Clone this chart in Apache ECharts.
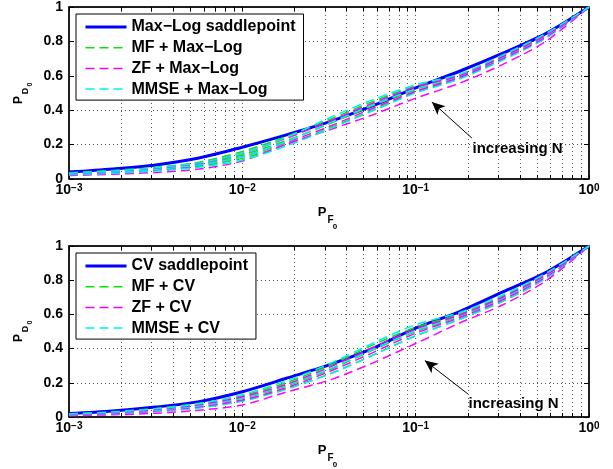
<!DOCTYPE html>
<html>
<head>
<meta charset="utf-8">
<script src="https://cdn.jsdelivr.net/npm/echarts@6/dist/echarts.min.js"></script>
<style>
html, body { margin: 0; padding: 0; background: #fff; }
#chart { width: 613px; height: 469px; }
</style>
</head>
<body>
<div id="chart"></div>
<script>
// False-alarm probability grid (quarter-decade steps) shared by every curve
const pf = [0.001, 0.0017783, 0.0031623, 0.0056234, 0.01, 0.017783, 0.031623,
            0.056234, 0.1, 0.17783, 0.31623, 0.56234, 1];

// Tick positions on the log axis (decades plus 2..9 subdivisions)
const xTicks = [0.001, 0.002, 0.003, 0.004, 0.005, 0.006, 0.007, 0.008, 0.009,
                0.01, 0.02, 0.03, 0.04, 0.05, 0.06, 0.07, 0.08, 0.09,
                0.1, 0.2, 0.3, 0.4, 0.5, 0.6, 0.7, 0.8, 0.9, 1];

// ---- Max-Log detector: detection probability ----
const mlSaddle = [0.040, 0.058, 0.082, 0.122, 0.185, 0.255, 0.332, 0.425, 0.530, 0.625, 0.730, 0.845, 1];
// three antenna counts per receiver (small N -> large N)
const mlMF = [
  [0.026, 0.036, 0.051, 0.074, 0.120, 0.200, 0.295, 0.400, 0.505, 0.585, 0.695, 0.820, 1],
  [0.031, 0.043, 0.060, 0.086, 0.140, 0.222, 0.320, 0.425, 0.520, 0.595, 0.705, 0.830, 1],
  [0.036, 0.050, 0.068, 0.098, 0.160, 0.245, 0.345, 0.450, 0.540, 0.605, 0.715, 0.840, 1]
];
const mlZF = [
  [0.020, 0.028, 0.038, 0.058, 0.105, 0.200, 0.285, 0.372, 0.470, 0.556, 0.665, 0.800, 1],
  [0.028, 0.039, 0.055, 0.080, 0.130, 0.210, 0.305, 0.410, 0.510, 0.590, 0.700, 0.825, 1],
  [0.033, 0.046, 0.064, 0.092, 0.150, 0.235, 0.335, 0.440, 0.535, 0.600, 0.710, 0.835, 1]
];
const mlMMSE = [
  [0.024, 0.033, 0.047, 0.068, 0.110, 0.190, 0.290, 0.395, 0.500, 0.580, 0.690, 0.818, 1],
  [0.029, 0.040, 0.056, 0.082, 0.130, 0.215, 0.325, 0.430, 0.525, 0.598, 0.708, 0.832, 1],
  [0.034, 0.047, 0.065, 0.094, 0.150, 0.240, 0.355, 0.460, 0.548, 0.608, 0.720, 0.845, 1]
];

// ---- CV detector: detection probability ----
const cvSaddle = [0.020, 0.035, 0.058, 0.090, 0.148, 0.225, 0.305, 0.400, 0.520, 0.615, 0.730, 0.845, 1];
const cvMF = [
  [0.013, 0.020, 0.034, 0.056, 0.095, 0.165, 0.250, 0.360, 0.475, 0.570, 0.675, 0.810, 1],
  [0.016, 0.025, 0.042, 0.068, 0.110, 0.180, 0.275, 0.390, 0.500, 0.585, 0.690, 0.822, 1],
  [0.019, 0.030, 0.050, 0.080, 0.125, 0.200, 0.300, 0.420, 0.525, 0.600, 0.705, 0.835, 1]
];
const cvZF = [
  [0.008, 0.013, 0.022, 0.040, 0.070, 0.145, 0.215, 0.315, 0.430, 0.548, 0.655, 0.795, 1],
  [0.013, 0.021, 0.036, 0.060, 0.100, 0.170, 0.265, 0.375, 0.490, 0.580, 0.685, 0.818, 1],
  [0.016, 0.026, 0.044, 0.072, 0.118, 0.190, 0.290, 0.405, 0.515, 0.595, 0.700, 0.830, 1]
];
const cvMMSE = [
  [0.012, 0.019, 0.032, 0.053, 0.092, 0.160, 0.250, 0.360, 0.475, 0.570, 0.678, 0.812, 1],
  [0.015, 0.024, 0.040, 0.065, 0.112, 0.185, 0.280, 0.395, 0.505, 0.590, 0.695, 0.826, 1],
  [0.018, 0.029, 0.048, 0.078, 0.130, 0.210, 0.310, 0.430, 0.540, 0.610, 0.712, 0.840, 1]
];

// Legend names
const topNames = ['Max\u2212Log saddlepoint', 'MF + Max\u2212Log', 'ZF + Max\u2212Log', 'MMSE + Max\u2212Log'];
const botNames = ['CV saddlepoint', 'MF + CV', 'ZF + CV', 'MMSE + CV'];

// Annotation anchors in data units: [P_F, P_D]
const topArrow = [[0.211, 0.238], [0.124, 0.448]];
const botArrow = [[0.200, 0.135], [0.113, 0.330]];
const topNote = [0.387, 0.174];
const botNote = [0.367, 0.076];

const FONT = 'Liberation Sans, Arial, Helvetica, sans-serif';
const BLUE = '#0000ff', GREEN = '#00e600', MAGENTA = '#ff00ff', CYAN = '#00f0f0';
const DASH = [9, 5];
const DASH_W = 1.5;

function curve(name, ys, color, width, type, g) {
  return {
    type: 'line', name: name,
    xAxisIndex: g * 2, yAxisIndex: g * 2,
    data: pf.map((x, i) => [x, ys[i]]),
    symbol: 'none', showSymbol: false, smooth: 0.3,
    lineStyle: { color: color, width: width, type: type },
    itemStyle: { color: color },
    silent: true
  };
}

function panelSeries(g, names, saddle, mf, zf, mmse, arrow, note) {
  const s = [curve(names[0], saddle, BLUE, 3, 'solid', g)];
  for (let k = 0; k < 3; k++) {
    s.push(curve(names[1], mf[k], GREEN, DASH_W, DASH, g));
    s.push(curve(names[2], zf[k], MAGENTA, DASH_W, DASH, g));
    s.push(curve(names[3], mmse[k], CYAN, DASH_W, DASH, g));
  }
  // "increasing N" annotation
  s.push({
    type: 'line', name: 'note' + g, xAxisIndex: g * 2, yAxisIndex: g * 2, data: [], silent: true,
    markLine: {
      silent: true, symbol: ['none', 'arrow'], symbolSize: [9, 13],
      lineStyle: { color: '#000', width: 1, type: 'solid' },
      label: { show: false },
      data: [[{ coord: arrow[0] }, { coord: arrow[1] }]]
    },
    markPoint: {
      silent: true, symbol: 'rect', symbolSize: 1,
      itemStyle: { color: 'rgba(0,0,0,0)' },
      label: {
        show: true, position: 'inside', formatter: 'increasing N',
        color: '#000', fontFamily: FONT, fontWeight: 'bold', fontSize: 15
      },
      data: [{ coord: note }]
    }
  });
  return s;
}

function xLabel(v) {
  const e = Math.round(Math.log10(v));
  return '{b|10}{s|' + (e < 0 ? '\u2212' + (-e) : e) + '}';
}

function xAxes(g) {
  return [
    {
      gridIndex: g, type: 'log', logBase: 10, min: 0.001, max: 1, position: 'bottom',
      axisLine: { show: true, onZero: false, lineStyle: { color: '#000', width: 1.5 } },
      axisTick: { show: true, inside: true, length: 4, customValues: xTicks, lineStyle: { color: '#000' } },
      axisLabel: {
        show: true, margin: 4, formatter: xLabel, color: '#000',
        rich: {
          b: { fontFamily: FONT, fontWeight: 'bold', fontSize: 14, lineHeight: 14, verticalAlign: 'bottom', color: '#000' },
          s: { fontFamily: FONT, fontWeight: 'bold', fontSize: 10, lineHeight: 10, verticalAlign: 'top', padding: [0, 0, 7, 0], color: '#000' }
        }
      },
      splitLine: { show: false }
    },
    {
      gridIndex: g, type: 'log', logBase: 10, min: 0.001, max: 1, position: 'top',
      axisLine: { show: true, onZero: false, lineStyle: { color: '#000', width: 1.5 } },
      axisTick: { show: true, inside: true, length: 4, customValues: xTicks, lineStyle: { color: '#000' } },
      axisLabel: { show: false },
      splitLine: { show: true, lineStyle: { color: '#555', width: 1, type: [1, 3] } }
    }
  ];
}

function yAxes(g) {
  return [
    {
      gridIndex: g, type: 'value', min: 0, max: 1, interval: 0.2, position: 'left',
      axisLine: { show: true, onZero: false, lineStyle: { color: '#000', width: 1.5 } },
      axisTick: { show: true, inside: true, length: 5, lineStyle: { color: '#000' } },
      axisLabel: { margin: 6, color: '#000', fontFamily: FONT, fontWeight: 'bold', fontSize: 14 },
      splitLine: { show: true, lineStyle: { color: '#555', width: 1, type: [1, 3] } }
    },
    {
      gridIndex: g, type: 'value', min: 0, max: 1, interval: 0.2, position: 'right',
      axisLine: { show: true, onZero: false, lineStyle: { color: '#000', width: 1.5 } },
      axisTick: { show: true, inside: true, length: 5, lineStyle: { color: '#000' } },
      axisLabel: { show: false },
      splitLine: { show: false }
    }
  ];
}

function legend(names, top) {
  const hidden = { color: 'rgba(0,0,0,0)', borderWidth: 0, borderColor: 'rgba(0,0,0,0)' };
  return {
    show: true, orient: 'vertical', left: 76, top: top,
    padding: [5, 8, 3, 8], itemGap: 4.7, itemWidth: 41, itemHeight: 16,
    backgroundColor: '#fff', borderColor: '#000', borderWidth: 1,
    selectedMode: false, z: 20,
    textStyle: { fontFamily: FONT, fontWeight: 'bold', fontSize: 16, color: '#000' },
    data: [
      { name: names[0], lineStyle: { width: 3 }, itemStyle: hidden },
      { name: names[1], lineStyle: { width: DASH_W }, itemStyle: hidden },
      { name: names[2], lineStyle: { width: DASH_W }, itemStyle: hidden },
      { name: names[3], lineStyle: { width: DASH_W }, itemStyle: hidden }
    ]
  };
}

function t(text, x, y, size, rot) {
  return {
    type: 'text', x: x, y: y, rotation: rot || 0, silent: true,
    style: { text: text, align: 'center', verticalAlign: 'middle', fill: '#000',
             fontFamily: FONT, fontWeight: 'bold', fontSize: size }
  };
}

function titles(dy) {
  const r = Math.PI / 2;
  return [
    t('P', 322, 212 + dy, 13), t('F', 330.5, 220 + dy, 10), t('0', 335, 227 + dy, 8),
    t('P', 18.5, 100 + dy, 12, r), t('D', 25.5, 91 + dy, 9, r), t('0', 30, 84.5 + dy, 7, r)
  ];
}

const chart = echarts.init(document.getElementById('chart'), null, { renderer: 'canvas' });
chart.setOption({
  animation: false,
  backgroundColor: '#fff',
  grid: [
    { left: 69, top: 7, width: 520, height: 172, show: true, borderColor: '#000', borderWidth: 1, backgroundColor: '#fff' },
    { left: 69, top: 246, width: 520, height: 171, show: true, borderColor: '#000', borderWidth: 1, backgroundColor: '#fff' }
  ],
  xAxis: xAxes(0).concat(xAxes(1)),
  yAxis: yAxes(0).concat(yAxes(1)),
  legend: [legend(topNames, 14), legend(botNames, 253)],
  series: panelSeries(0, topNames, mlSaddle, mlMF, mlZF, mlMMSE, topArrow, topNote)
    .concat(panelSeries(1, botNames, cvSaddle, cvMF, cvZF, cvMMSE, botArrow, botNote)),
  graphic: titles(0).concat(titles(238))
});
</script>
</body>
</html>
